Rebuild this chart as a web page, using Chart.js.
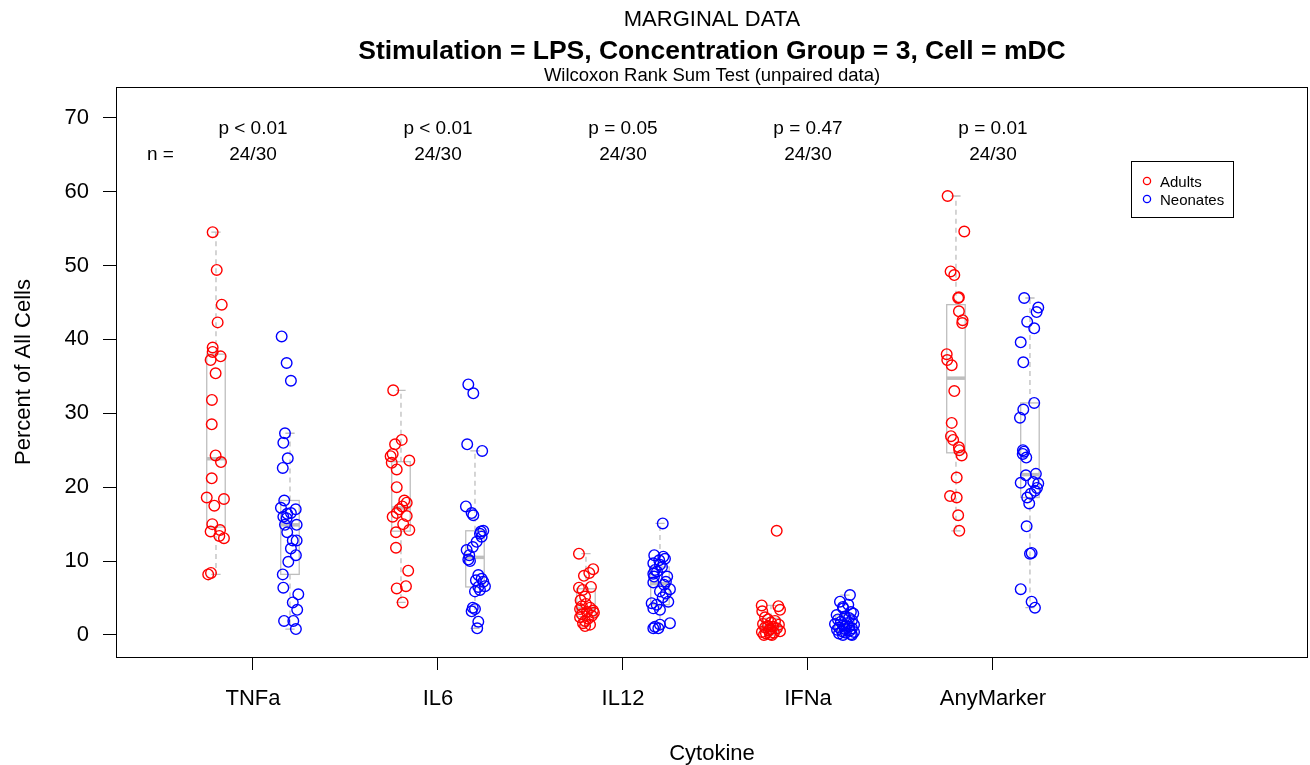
<!DOCTYPE html>
<html>
<head>
<meta charset="utf-8">
<script src="https://cdn.jsdelivr.net/npm/chart.js@4/dist/chart.umd.min.js"></script>
<style>
  html, body { margin: 0; padding: 0; background: #ffffff; }
  #wrap { width: 1310px; height: 765px; }
</style>
</head>
<body>
<div id="wrap"><canvas id="c" width="1310" height="765"></canvas></div>
<script>
// ---------------- DATA ----------------
const categories = ['TNFa', 'IL6', 'IL12', 'IFNa', 'AnyMarker'];
const pValueLabels = ['p < 0.01', 'p < 0.01', 'p = 0.05', 'p = 0.47', 'p = 0.01'];
const sampleSizeLabels = ['24/30', '24/30', '24/30', '24/30', '24/30'];
const yTicks = [0, 10, 20, 30, 40, 50, 60, 70];
const seriesNames = ['Adults', 'Neonates'];

// Percent of all cells, Adults (n = 24 per cytokine)
const adultsTNFa = [54.5, 49.4, 44.7, 42.3, 38.9, 38.3, 37.2, 37.7, 35.4, 31.8, 28.5, 24.3, 23.4, 21.2, 18.6, 18.4, 17.5, 15.0, 14.0, 14.2, 13.4, 13.1, 8.2, 8.4];
const adultsIL6 = [33.1, 26.4, 25.8, 24.5, 24.2, 23.3, 23.6, 22.4, 20.0, 18.2, 17.9, 17.4, 17.0, 16.5, 16.1, 16.0, 15.0, 14.2, 13.9, 11.8, 8.7, 6.6, 6.3, 4.4];
const adultsIL12 = [11.0, 8.9, 8.4, 8.0, 6.5, 6.4, 6.1, 5.2, 4.7, 4.2, 3.9, 3.7, 3.5, 3.3, 3.1, 3.0, 2.8, 2.6, 2.4, 2.2, 1.9, 1.6, 1.4, 1.2];
const adultsIFNa = [14.1, 4.0, 3.9, 3.4, 3.2, 2.4, 2.1, 1.9, 1.7, 1.5, 1.4, 1.2, 1.1, 1.0, 0.9, 0.8, 0.6, 0.5, 0.4, 0.3, 0.2, 0.1, 0.0, 0.0];
const adultsAnyMarker = [59.4, 54.6, 49.2, 48.7, 45.7, 45.6, 43.8, 42.6, 42.2, 38.0, 37.2, 36.5, 33.0, 28.7, 26.9, 26.4, 25.4, 25.0, 24.3, 21.3, 18.8, 18.6, 16.2, 14.1];

// Percent of all cells, Neonates (n = 30 per cytokine)
const neonatesTNFa = [40.4, 36.8, 34.4, 27.3, 26.0, 23.9, 22.6, 18.2, 17.2, 17.0, 16.5, 16.4, 16.0, 15.8, 14.9, 14.9, 13.9, 12.8, 12.8, 11.7, 10.8, 9.9, 8.2, 6.4, 5.5, 4.4, 3.4, 1.9, 1.9, 0.8];
const neonatesIL6 = [33.9, 32.7, 25.8, 24.9, 17.4, 16.5, 16.2, 14.1, 14.0, 13.7, 13.3, 12.6, 11.9, 11.5, 10.0, 10.8, 10.2, 8.1, 7.6, 7.4, 7.2, 6.6, 6.5, 6.1, 5.9, 3.7, 3.5, 3.2, 1.8, 0.9];
const neonatesIL12 = [15.1, 10.8, 10.6, 10.3, 10.1, 9.7, 9.5, 9.2, 8.8, 8.6, 8.3, 7.9, 7.9, 7.2, 7.1, 6.8, 6.2, 5.9, 5.6, 5.1, 4.5, 4.3, 4.1, 3.6, 3.4, 1.6, 1.4, 1.1, 0.9, 0.9];
const neonatesIFNa = [5.4, 4.5, 4.1, 3.8, 3.6, 3.1, 2.9, 2.7, 2.5, 2.3, 2.1, 2.0, 1.8, 1.6, 1.5, 1.4, 1.3, 1.1, 1.0, 0.9, 0.8, 0.7, 0.6, 0.5, 0.4, 0.3, 0.2, 0.1, 0.0, 0.0];
const neonatesAnyMarker = [45.6, 44.3, 43.7, 42.4, 41.5, 39.6, 36.9, 31.4, 30.5, 29.4, 25.0, 24.8, 24.5, 24.0, 21.8, 21.6, 20.6, 20.7, 20.5, 19.9, 19.5, 19.1, 18.6, 17.8, 14.7, 11.0, 11.1, 6.2, 4.5, 3.7];

// Horizontal jitter of each point (in category units)
const adultsTNFaJitter = [-0.018, 0.004, 0.031, 0.009, -0.018, -0.018, -0.029, 0.025, -0.002, -0.022, -0.023, -0.002, 0.027, -0.023, -0.05, 0.043, -0.009, -0.02, -0.029, 0.022, 0.018, 0.043, -0.042, -0.027];
const adultsIL6Jitter = [-0.042, 0.004, -0.032, -0.045, -0.056, -0.05, 0.045, -0.023, -0.023, 0.018, 0.031, 0.007, -0.009, -0.023, 0.031, -0.045, 0.012, 0.045, -0.027, -0.027, 0.039, 0.027, -0.023, 0.009];
const adultsIL12Jitter = [-0.038, 0.039, 0.018, -0.011, 0.027, -0.038, -0.018, -0.005, -0.029, 0, -0.022, 0.022, -0.032, 0.038, 0.005, 0.043, -0.022, 0.032, -0.032, 0.011, -0.005, -0.016, 0.022, -0.005];
const adultsIFNaJitter = [0.031, -0.05, 0.04, 0.049, -0.047, -0.032, -0.016, 0.022, 0, -0.043, 0.043, -0.016, 0.011, -0.032, 0.032, -0.005, -0.011, 0.049, -0.049, 0.016, -0.027, -0.005, -0.038, 0.005];
const adultsAnyMarkerJitter = [-0.045, 0.045, -0.029, -0.009, 0.016, 0.012, 0.016, 0.036, 0.034, -0.05, -0.047, -0.023, -0.009, -0.023, -0.027, -0.015, 0.016, 0.018, 0.031, 0.004, -0.032, 0.004, 0.012, 0.018];

const neonatesTNFaJitter = [-0.045, -0.018, 0.005, -0.027, -0.036, -0.012, -0.039, -0.031, -0.049, 0.031, 0.005, -0.015, -0.036, -0.018, -0.027, 0.036, -0.015, 0.015, 0.036, 0.005, 0.032, -0.009, -0.039, -0.036, 0.045, 0.015, 0.039, -0.032, 0.018, 0.032];
const neonatesIL6Jitter = [-0.036, -0.009, -0.042, 0.039, -0.049, -0.018, -0.009, 0.045, 0.032, 0.027, 0.036, 0.009, -0.012, -0.045, -0.027, -0.031, -0.036, 0.018, 0.036, 0.005, 0.045, 0.054, 0.018, 0.027, 0, -0.012, 0, -0.018, 0.018, 0.012];
const neonatesIL12Jitter = [0.015, -0.031, 0.018, 0.027, -0.004, -0.036, 0, 0.011, -0.027, -0.016, -0.036, -0.032, 0.039, 0.032, -0.036, 0.022, 0.054, 0, 0.032, 0.015, 0.045, -0.045, -0.018, -0.036, 0, 0.054, 0, -0.027, -0.009, -0.036];
const neonatesIFNaJitter = [0.027, -0.027, 0.018, -0.011, -0.009, 0.032, 0.045, -0.045, 0, 0.022, -0.038, 0.038, -0.022, 0.011, -0.054, 0.049, -0.011, 0.022, -0.032, 0.038, 0, -0.043, 0.027, -0.016, 0.049, 0.005, -0.032, 0.032, -0.011, 0.038];
const neonatesAnyMarkerJitter = [-0.031, 0.045, 0.036, -0.015, 0.023, -0.05, -0.036, 0.023, -0.036, -0.054, -0.038, -0.032, -0.039, -0.02, 0.032, -0.022, -0.05, 0.018, 0.045, 0.038, 0.027, 0.004, -0.015, -0.004, -0.018, 0, 0.009, -0.05, 0.009, 0.027];

// ---------------- BUILD ----------------
const adultsValues = [adultsTNFa, adultsIL6, adultsIL12, adultsIFNa, adultsAnyMarker];
const neonatesValues = [neonatesTNFa, neonatesIL6, neonatesIL12, neonatesIFNa, neonatesAnyMarker];
const adultsJitter = [adultsTNFaJitter, adultsIL6Jitter, adultsIL12Jitter, adultsIFNaJitter, adultsAnyMarkerJitter];
const neonatesJitter = [neonatesTNFaJitter, neonatesIL6Jitter, neonatesIL12Jitter, neonatesIFNaJitter, neonatesAnyMarkerJitter];

const GROUP_SHIFT = 0.2;      // adults left, neonates right of the category
const BOX_HALF = 0.05;        // half box width in category units
const FONT = '"Liberation Sans", Arial, Helvetica, sans-serif';
const BOX_GREY = '#bebebe';

function buildPoints(valuesList, jitterList, shift) {
  const pts = [];
  valuesList.forEach((vals, ci) => {
    vals.forEach((v, j) => pts.push({ x: ci + 1 + shift + (jitterList[ci][j] || 0), y: v }));
  });
  return pts;
}

function fivenum(arr) {
  const x = arr.slice().sort((a, b) => a - b);
  const n = x.length;
  const n4 = Math.floor((n + 3) / 2) / 2;
  const d = [1, n4, (n + 1) / 2, n + 1 - n4, n];
  return d.map(di => 0.5 * (x[Math.floor(di) - 1] + x[Math.ceil(di) - 1]));
}

function boxStats(arr) {
  const f = fivenum(arr);
  const iqr = f[3] - f[1];
  const hiLim = f[3] + 1.5 * iqr, loLim = f[1] - 1.5 * iqr;
  const inside = arr.filter(v => v >= loLim && v <= hiLim);
  return { lo: Math.min(...inside), q1: f[1], med: f[2], q3: f[3], hi: Math.max(...inside) };
}

const boxPlugin = {
  id: 'boxes',
  beforeDatasetsDraw(chart) {
    const { ctx } = chart;
    const xs = chart.scales.x, ys = chart.scales.y;
    const groups = [
      { list: adultsValues, shift: -GROUP_SHIFT },
      { list: neonatesValues, shift: GROUP_SHIFT }
    ];
    ctx.save();
    groups.forEach(g => {
      g.list.forEach((vals, ci) => {
        const s = boxStats(vals);
        const cx = ci + 1 + g.shift;
        const xc = xs.getPixelForValue(cx);
        const xl = xs.getPixelForValue(cx - BOX_HALF);
        const xr = xs.getPixelForValue(cx + BOX_HALF);
        const hw = (xr - xl) / 4;
        const yq1 = ys.getPixelForValue(s.q1), yq3 = ys.getPixelForValue(s.q3);
        const ymed = ys.getPixelForValue(s.med);
        const ylo = ys.getPixelForValue(s.lo), yhi = ys.getPixelForValue(s.hi);
        ctx.strokeStyle = BOX_GREY;
        // whiskers (dashed)
        ctx.lineWidth = 1.3;
        ctx.setLineDash([5, 4]);
        ctx.beginPath();
        ctx.moveTo(xc, yq3); ctx.lineTo(xc, yhi);
        ctx.moveTo(xc, yq1); ctx.lineTo(xc, ylo);
        ctx.stroke();
        ctx.setLineDash([]);
        // staples
        ctx.beginPath();
        ctx.moveTo(xc - hw, yhi); ctx.lineTo(xc + hw, yhi);
        ctx.moveTo(xc - hw, ylo); ctx.lineTo(xc + hw, ylo);
        ctx.stroke();
        // box
        ctx.strokeRect(xl, yq3, xr - xl, yq1 - yq3);
        // median
        ctx.lineWidth = 3.5;
        ctx.beginPath();
        ctx.moveTo(xl, ymed); ctx.lineTo(xr, ymed);
        ctx.stroke();
      });
    });
    ctx.restore();
  }
};

const decorPlugin = {
  id: 'decor',
  afterDraw(chart) {
    const { ctx, chartArea: a } = chart;
    const xs = chart.scales.x;
    ctx.save();
    // frame
    ctx.strokeStyle = '#000';
    ctx.lineWidth = 1;
    ctx.strokeRect(Math.round(a.left) + 0.5, Math.round(a.top) + 0.5,
                   Math.round(a.right - a.left) - 1, Math.round(a.bottom - a.top));
    const cxMid = (a.left + a.right) / 2;
    ctx.fillStyle = '#000';
    ctx.textAlign = 'center';
    ctx.textBaseline = 'alphabetic';
    // titles
    ctx.font = `22px ${FONT}`;
    ctx.fillText('MARGINAL DATA', cxMid, 26);
    ctx.font = `bold 26.5px ${FONT}`;
    ctx.fillText('Stimulation = LPS, Concentration Group = 3, Cell = mDC', cxMid, 59);
    ctx.font = `18.5px ${FONT}`;
    ctx.fillText('Wilcoxon Rank Sum Test (unpaired data)', cxMid, 81);
    // p-values and sample sizes
    ctx.font = `19px ${FONT}`;
    categories.forEach((c, i) => {
      const px = xs.getPixelForValue(i + 1);
      ctx.fillText(pValueLabels[i], px, a.top + 47);
      ctx.fillText(sampleSizeLabels[i], px, a.top + 73);
    });
    ctx.fillText('n =', xs.getPixelForValue(0.5), a.top + 73);
    // axis titles
    ctx.font = `22px ${FONT}`;
    ctx.fillText('Cytokine', cxMid, 760);
    ctx.save();
    ctx.translate(30, (a.top + a.bottom) / 2);
    ctx.rotate(-Math.PI / 2);
    ctx.fillText('Percent of All Cells', 0, 0);
    ctx.restore();
    // legend
    ctx.lineWidth = 1;
    ctx.strokeStyle = '#000';
    ctx.strokeRect(1131.5, 161.5, 102, 56);
    const colors = ['#ff0000', '#0000ff'];
    ctx.font = `15px ${FONT}`;
    ctx.textAlign = 'left';
    seriesNames.forEach((name, i) => {
      const yy = 181 + i * 18;
      ctx.beginPath();
      ctx.lineWidth = 1.3;
      ctx.strokeStyle = colors[i];
      ctx.arc(1147, yy, 3.6, 0, Math.PI * 2);
      ctx.stroke();
      ctx.fillStyle = '#000';
      ctx.fillText(name, 1160, yy + 5.5);
    });
    ctx.restore();
  }
};

new Chart(document.getElementById('c'), {
  type: 'scatter',
  data: {
    datasets: [
      {
        label: seriesNames[0],
        data: buildPoints(adultsValues, adultsJitter, -GROUP_SHIFT),
        borderColor: '#ff0000',
        backgroundColor: 'rgba(0,0,0,0)',
        pointRadius: 5.3,
        pointBorderWidth: 1.4,
        pointHoverRadius: 5.3
      },
      {
        label: seriesNames[1],
        data: buildPoints(neonatesValues, neonatesJitter, GROUP_SHIFT),
        borderColor: '#0000ff',
        backgroundColor: 'rgba(0,0,0,0)',
        pointRadius: 5.3,
        pointBorderWidth: 1.4,
        pointHoverRadius: 5.3
      }
    ]
  },
  options: {
    responsive: false,
    animation: false,
    devicePixelRatio: 1,
    layout: { autoPadding: false, padding: { left: 0, top: 87, right: 2, bottom: 0 } },
    plugins: { legend: { display: false }, tooltip: { enabled: false }, title: { display: false } },
    scales: {
      x: {
        type: 'linear',
        min: 0.2595,
        max: 6.703,
        afterFit(s) { s.height = 108; s.paddingLeft = 0; s.paddingRight = 0; },
        afterBuildTicks(s) { s.ticks = categories.map((c, i) => ({ value: i + 1 })); },
        ticks: {
          autoSkip: false,
          maxRotation: 0,
          padding: 16,
          color: '#000',
          font: { family: FONT, size: 22 },
          callback: (v) => categories[Math.round(v) - 1] || ''
        },
        grid: { drawOnChartArea: false, drawTicks: true, tickLength: 13, tickColor: '#000', tickWidth: 1 },
        border: { display: false }
      },
      y: {
        type: 'linear',
        min: -2.98,
        max: 74.15,
        afterFit(s) { s.width = 116; s.paddingTop = 0; s.paddingBottom = 0; },
        afterBuildTicks(s) { s.ticks = yTicks.map(v => ({ value: v })); },
        ticks: {
          padding: 14,
          color: '#000',
          font: { family: FONT, size: 22 },
          callback: (v) => String(v)
        },
        grid: { drawOnChartArea: false, drawTicks: true, tickLength: 13, tickColor: '#000', tickWidth: 1 },
        border: { display: false }
      }
    }
  },
  plugins: [boxPlugin, decorPlugin]
});
</script>
</body>
</html>
